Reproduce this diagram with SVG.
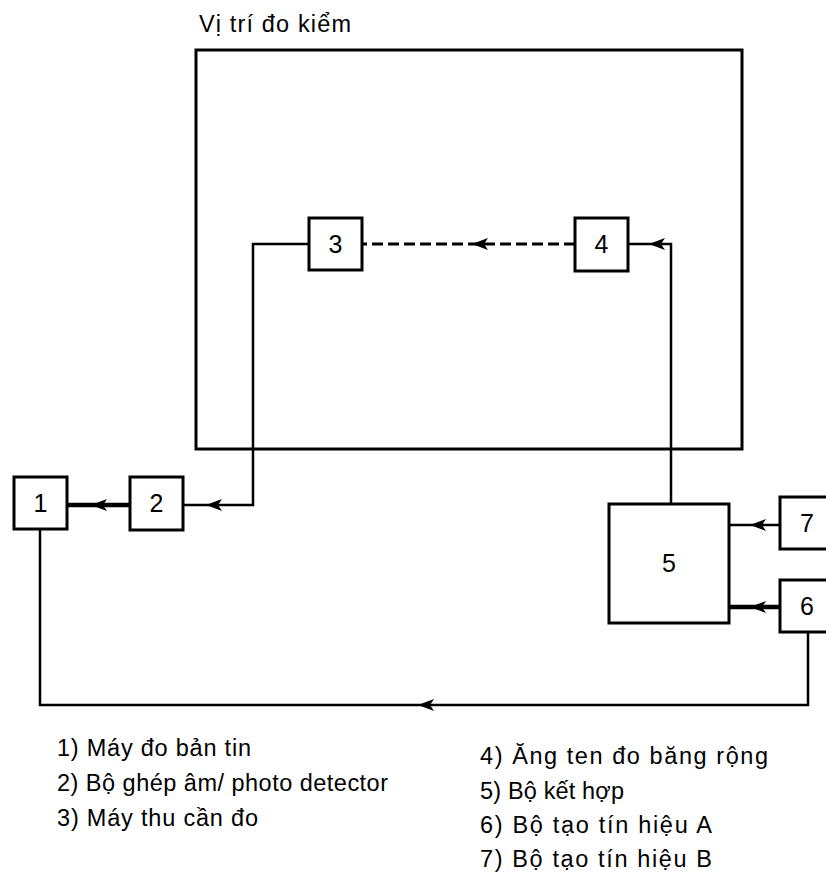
<svg xmlns="http://www.w3.org/2000/svg" xmlns:xlink="http://www.w3.org/1999/xlink" width="826" height="885" viewBox="0 0 826 885">
<style>
  .box{fill:#fff;stroke:#000;stroke-width:3}
  .frame{fill:none;stroke:#000;stroke-width:3}
  .lbl{font-family:"Liberation Sans",Arial,sans-serif;font-size:25px;fill:#000;text-anchor:middle}
  .txt{font-family:"Liberation Sans",Arial,sans-serif;font-size:23.5px;fill:#000}
  .ln{fill:none;stroke:#000;stroke-width:2.5}
  .thick{stroke-width:4.5}
  .dash{stroke-dasharray:11 5;stroke-width:3}
</style>
<defs>
  <path id="ah" d="M0,0 L16,-6 L12,0 L16,6 Z" fill="#000"/>
</defs>
<rect width="826" height="885" fill="#fff"/>
<text class="txt" x="199" y="32" font-size="25" textLength="152" lengthAdjust="spacing">Vị trí đo kiểm</text>
<g id="site">
  <rect class="frame" x="196" y="50" width="546" height="399"/>
</g>
<g id="connectors">
  <polyline class="ln" points="309,244 253,244 253,505 183,505"/>
  <use xlink:href="#ah" x="206" y="505"/>
  <line class="ln thick" x1="130" y1="505" x2="68" y2="505"/>
  <use xlink:href="#ah" x="91" y="505"/>
  <line class="ln dash" x1="575" y1="244" x2="362" y2="244"/>
  <use xlink:href="#ah" x="472" y="244"/>
  <polyline class="ln" points="671,504 671,244 628,244"/>
  <use xlink:href="#ah" x="649" y="244"/>
  <line class="ln" x1="780" y1="525" x2="729" y2="525"/>
  <use xlink:href="#ah" x="750" y="525"/>
  <line class="ln thick" x1="780" y1="607" x2="729" y2="607"/>
  <use xlink:href="#ah" x="750" y="607"/>
  <polyline class="ln" points="808,632 808,705 40,705 40,528"/>
  <use xlink:href="#ah" x="418" y="705"/>
</g>
<g id="n1"><rect class="box" x="14" y="477" width="53" height="52"/><text class="lbl" x="40.5" y="512">1</text></g>
<g id="n2"><rect class="box" x="130" y="477" width="53" height="53"/><text class="lbl" x="156.5" y="512">2</text></g>
<g id="n3"><rect class="box" x="309" y="218" width="53" height="52"/><text class="lbl" x="335.5" y="253">3</text></g>
<g id="n4"><rect class="box" x="575" y="218" width="53" height="53"/><text class="lbl" x="601.5" y="253">4</text></g>
<g id="n5"><rect class="box" x="609" y="504" width="120" height="119"/><text class="lbl" x="669" y="572">5</text></g>
<g id="n7"><rect class="box" x="780" y="497" width="52" height="52"/><text class="lbl" x="807" y="532">7</text></g>
<g id="n6"><rect class="box" x="780" y="580" width="52" height="52"/><text class="lbl" x="807" y="615">6</text></g>
<g id="legend">
  <text class="txt" x="57" y="756" textLength="194" lengthAdjust="spacing">1) Máy đo bản tin</text>
  <text class="txt" x="57" y="791" textLength="331" lengthAdjust="spacing">2) Bộ ghép âm/ photo detector</text>
  <text class="txt" x="57" y="826" textLength="201" lengthAdjust="spacing">3) Máy thu cần đo</text>
  <text class="txt" x="480" y="764" textLength="288" lengthAdjust="spacing">4) Ăng ten đo băng rộng</text>
  <text class="txt" x="480" y="799" textLength="144" lengthAdjust="spacing">5) Bộ kết hợp</text>
  <text class="txt" x="480" y="833" textLength="232" lengthAdjust="spacing">6) Bộ tạo tín hiệu A</text>
  <text class="txt" x="480" y="867" textLength="232" lengthAdjust="spacing">7) Bộ tạo tín hiệu B</text>
</g>
</svg>
